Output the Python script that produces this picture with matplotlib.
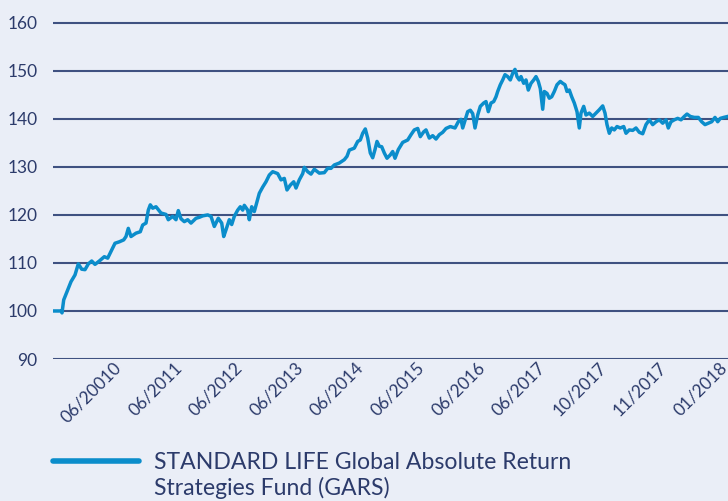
import numpy as np
import matplotlib
matplotlib.use("Agg")
import matplotlib.pyplot as plt

# fund index (t = position along the axis, 0..675)
t = [0, 8, 9, 10.7, 14.7, 18, 22, 25.3, 28.7, 32, 35.3, 38.7, 42, 46.3,
     51.3, 54.7, 58, 62, 66.3, 70.7, 73, 75.3, 78, 83, 87.3, 89.7, 93,
     95.3, 97.3, 99.7, 103, 108, 113, 115.3, 119.7, 123, 125.3, 128,
     131.3, 134.7, 138, 143, 146.3, 149.7, 154.7, 158, 161.3, 165.3,
     168.7, 170.7, 173, 176.3, 178.7, 181.3, 184.7, 187.3, 189.7, 191.3,
     194.7, 196.3, 198.7, 201.3, 204, 206.3, 209.7, 213, 216.3, 219.7,
     224.7, 228, 231.3, 234, 237.3, 240.7, 243, 246.3, 249.7, 251.3,
     254.7, 258, 261.3, 266.3, 271.3, 274.7, 278, 281.3, 286.3, 291.3,
     294, 296.3, 301.3, 304.7, 307.3, 309.7, 312.3, 314.7, 317.3, 319.7,
     322, 324, 326.3, 328.7, 331.3, 334, 337.3, 339.7, 342, 345.3, 349.7,
     354.7, 358, 361.3, 364.7, 367.3, 370.7, 373, 376.3, 379.7, 383,
     386.3, 389.7, 393, 397.3, 402, 405.3, 408, 409.7, 412, 414.7, 417.3,
     419.7, 422, 424.7, 427.3, 430.7, 433, 435.3, 438, 440.7, 443, 444.7,
     447.3, 449.7, 452, 454.7, 457.3, 459.7, 462, 464, 466.3, 468, 470.7,
     473, 475.3, 478, 480.7, 483, 485.3, 487.3, 489.7, 491.3, 494, 496.3,
     498.7, 501.3, 504, 507.3, 509.7, 512, 514, 516.3, 518.7, 521.3, 524,
     526.3, 528, 530.7, 533, 536.3, 539.7, 543, 546.3, 549.7, 552, 554,
     556.3, 558.7, 561.3, 564, 567.3, 570.7, 573, 576.3, 579.7, 583,
     586.3, 589.7, 593, 596.3, 599.7, 603, 606.3, 609.7, 613, 615.3, 618,
     621.3, 624.7, 628, 631.3, 634, 637.3, 641.3, 645.3, 648.7, 652,
     655.3, 658.7, 662, 664.7, 667.3, 670.7, 674.7]
gars = [100.0, 100.0, 99.6, 102.3, 104.4, 106.1, 107.5, 109.8, 108.7,
        108.6, 109.8, 110.4, 109.7, 110.4, 111.3, 111.0, 112.4, 114.1,
        114.4, 114.8, 115.5, 117.2, 115.5, 116.2, 116.5, 117.9, 118.3,
        121.0, 122.1, 121.4, 121.7, 120.4, 120.1, 119.0, 119.7, 119.0,
        120.9, 119.2, 118.6, 119.0, 118.3, 119.3, 119.5, 119.8, 120.0,
        119.7, 117.6, 119.3, 118.3, 115.5, 116.9, 119.0, 118.0, 119.7,
        121.0, 121.7, 121.0, 122.0, 121.0, 119.0, 121.7, 120.7, 122.8,
        124.5, 125.8, 126.9, 128.3, 129.0, 128.6, 127.3, 127.6, 125.2,
        126.2, 126.9, 125.6, 127.3, 128.6, 129.9, 129.0, 128.5, 129.5,
        128.7, 128.8, 129.7, 129.7, 130.4, 130.8, 131.5, 132.2, 133.5,
        133.9, 135.3, 135.6, 137.0, 137.9, 136.0, 132.9, 131.9, 133.6,
        135.3, 134.3, 134.2, 132.9, 131.8, 132.5, 133.2, 131.8, 133.6,
        135.1, 135.6, 136.7, 137.7, 138.0, 136.3, 137.3, 137.7, 136.0,
        136.5, 135.8, 136.7, 137.2, 138.0, 138.4, 138.1, 139.4, 139.9,
        138.1, 139.7, 141.5, 141.8, 141.1, 138.1, 140.8, 142.6, 143.3,
        143.6, 141.5, 143.3, 143.6, 144.6, 145.7, 147.1, 148.1, 149.2,
        148.8, 148.1, 149.5, 150.3, 148.8, 148.1, 148.8, 147.4, 148.1,
        146.0, 147.4, 148.1, 148.8, 147.8, 146.3, 142.0, 145.7, 145.3,
        144.3, 144.6, 145.7, 147.1, 147.8, 147.4, 147.1, 145.7, 146.0,
        144.6, 143.3, 141.5, 138.1, 141.2, 142.6, 140.8, 141.2, 140.5,
        141.2, 141.9, 142.7, 141.2, 138.8, 137.0, 138.1, 137.7, 138.4,
        138.1, 138.4, 137.0, 137.7, 137.6, 138.1, 137.2, 136.9, 138.8,
        139.8, 138.8, 139.4, 139.8, 139.1, 139.8, 138.1, 139.4, 139.8,
        140.1, 139.8, 140.5, 141.0, 140.5, 140.3, 140.3, 139.4, 138.8,
        139.1, 139.4, 140.3, 139.4, 140.1, 140.3, 140.5]

tick_labels = ['06/20010', '06/2011', '06/2012', '06/2013', '06/2014',
               '06/2015', '06/2016', '06/2017', '10/2017', '11/2017',
               '01/2018']
y_ticks = [90, 100, 110, 120, 130, 140, 150, 160]

# legend text wraps onto a second line in the original
legend_line1 = 'STANDARD LIFE Global Absolute Return'
legend_line2 = 'Strategies Fund (GARS)'

BG = '#eaeef7'
NAVY = '#2c3b6b'
GRID = '#3f5181'
BLUE = '#0b8dcb'

plt.rcParams['font.family'] = ['Lato', 'DejaVu Sans']

fig = plt.figure(figsize=(7.28, 5.01), dpi=100, facecolor=BG)
ax = fig.add_axes([53 / 728, 142 / 501, 675 / 728, 341 / 501])
ax.set_facecolor(BG)

line, = ax.plot(t, gars, color=BLUE, lw=2.5, solid_joinstyle='round',
                label=legend_line1, zorder=3)

ax.set_xlim(0, 675)
ax.set_ylim(90, 161)
ax.set_yticks(y_ticks)
ax.yaxis.grid(True, color=GRID, lw=1.5)
ax.set_axisbelow(True)
for s in ax.spines.values():
    s.set_visible(False)

# the category labels sit evenly along the axis
ax.set_xticks(60 + 60.6 * np.arange(len(tick_labels)))
ax.set_xticklabels(tick_labels, rotation=45, ha='right', va='top',
                   rotation_mode='anchor')
ax.tick_params(axis='x', length=0, pad=0, labelsize=12.5, labelcolor=NAVY)
ax.tick_params(axis='y', length=0, pad=11, labelsize=12.5, labelcolor=NAVY)

leg = fig.legend(loc='upper left', bbox_to_anchor=(44 / 728, 58 / 501),
                 frameon=False, fontsize=16.6, handlelength=3.7,
                 handletextpad=0.65, borderaxespad=0, labelcolor=NAVY)
for h in leg.legend_handles:
    h.set_linewidth(4)
    h.set_solid_capstyle('round')

# second line of the legend label, lined up under the first
fig.canvas.draw()
bb = leg.get_texts()[0].get_window_extent()
fig.text(bb.x0 / fig.bbox.width, 6 / 501, legend_line2, fontsize=16.6,
         color=NAVY, ha='left', va='baseline')

fig.savefig('out.png', dpi=100, facecolor=BG)
